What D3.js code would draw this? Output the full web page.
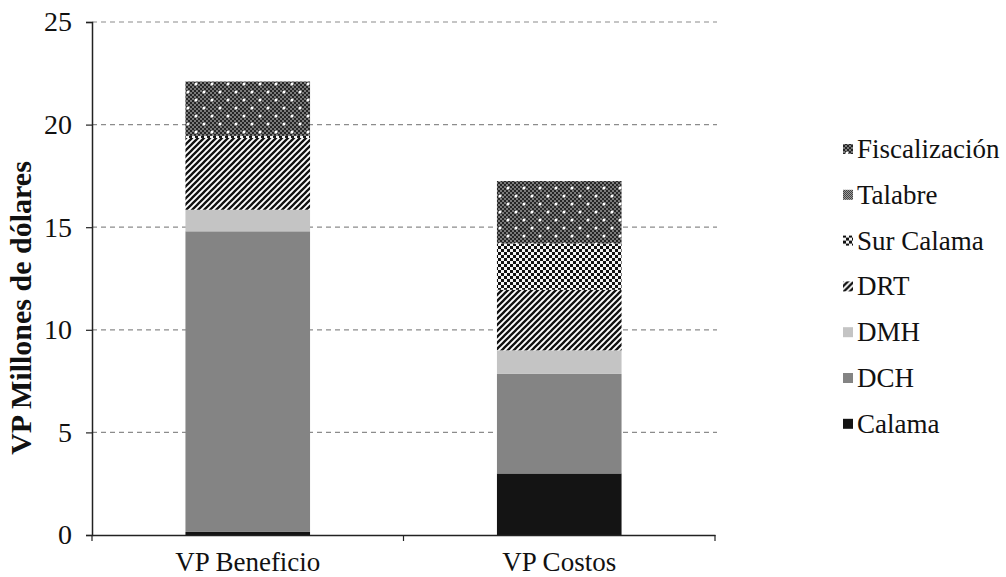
<!DOCTYPE html>
<html><head><meta charset="utf-8">
<script src="https://cdnjs.cloudflare.com/ajax/libs/d3/7.8.5/d3.min.js"></script>
</head><body style="margin:0">
<svg id="chart" width="1006" height="577"></svg>
<script>
const categories = ["VP Beneficio", "VP Costos"];
const seriesNames = ["Calama", "DCH", "DMH", "DRT", "Sur Calama", "Talabre", "Fiscalización"];
const Calama = [0.15, 3.0];
const DCH = [14.65, 4.85];
const DMH = [1.05, 1.15];
const DRT = [3.5, 2.95];
const SurCalama = [0.1, 2.25];
const Talabre = [0, 0];
const Fiscalizacion = [2.65, 3.05];
const yTicks = [0, 5, 10, 15, 20, 25];
const yTitle = "VP Millones de dólares";

const seriesValues = [Calama, DCH, DMH, DRT, SurCalama, Talabre, Fiscalizacion];
const rows = categories.map((c, i) => {
  const r = {cat: c};
  seriesNames.forEach((s, k) => r[s] = seriesValues[k][i]);
  return r;
});

const svg = d3.select("#chart");
const L = 92, R = 715, T = 22, B = 535;
const FONT = '"Liberation Serif"';
const FS = "27px";

const defs = svg.append("defs");
function mkPattern(id, w, h, draw) {
  const p = defs.append("pattern").attr("id", id).attr("patternUnits", "userSpaceOnUse")
    .attr("width", w).attr("height", h);
  draw(p);
}
mkPattern("pDRT", 6, 6, p => {
  p.append("rect").attr("width", 6).attr("height", 6).attr("fill", "#fff");
  p.append("path").attr("d", "M-1.5,1.5 L1.5,-1.5 M0,6 L6,0 M4.5,7.5 L7.5,4.5")
    .attr("stroke", "#111").attr("stroke-width", 2.3);
});
mkPattern("pSur", 6, 6, p => {
  p.append("rect").attr("width", 6).attr("height", 6).attr("fill", "#f4f4f4");
  p.append("rect").attr("width", 3).attr("height", 3).attr("fill", "#111");
  p.append("rect").attr("x", 3).attr("y", 3).attr("width", 3).attr("height", 3).attr("fill", "#111");
});
mkPattern("pTal", 2, 2, p => {
  p.append("rect").attr("width", 2).attr("height", 2).attr("fill", "#bbb");
  p.append("rect").attr("width", 1).attr("height", 1).attr("fill", "#222");
  p.append("rect").attr("x", 1).attr("y", 1).attr("width", 1).attr("height", 1).attr("fill", "#222");
});
mkPattern("pFis", 16, 16, p => {
  p.append("rect").attr("width", 16).attr("height", 16).attr("fill", "#7a7a7a");
  for (let i = 0; i < 8; i++) for (let j = 0; j < 8; j++) {
    if ((i + j) % 2 === 0) p.append("rect").attr("x", i * 2).attr("y", j * 2).attr("width", 2).attr("height", 2).attr("fill", "#262626");
  }
  [[4, 4], [12, 12]].forEach(([cx, cy]) => {
    p.append("circle").attr("cx", cx).attr("cy", cy).attr("r", 1.5).attr("fill", "#fff");
  });
});

const fills = {
  "Calama": "#141414", "DCH": "#848484", "DMH": "#c4c4c4",
  "DRT": "url(#pDRT)", "Sur Calama": "url(#pSur)", "Talabre": "url(#pTal)", "Fiscalización": "url(#pFis)"
};

const x = d3.scaleBand().domain(categories).range([L, R]).paddingInner(0.6).paddingOuter(0.3);
const y = d3.scaleLinear().domain([0, 25]).range([B, T]);

svg.append("g").selectAll("line").data(yTicks.filter(d => d > 0)).join("line")
  .attr("x1", L).attr("x2", R + 2).attr("y1", d => y(d)).attr("y2", d => y(d))
  .attr("stroke", "#8c8c8c").attr("stroke-width", 1.2).attr("stroke-dasharray", "5,4");

const stack = d3.stack().keys(seriesNames)(rows);
svg.append("g").selectAll("g").data(stack).join("g")
  .attr("fill", d => fills[d.key])
  .selectAll("rect").data(d => d).join("rect")
  .attr("x", d => x(d.data.cat)).attr("width", x.bandwidth())
  .attr("y", d => y(d[1])).attr("height", d => Math.max(0, y(d[0]) - y(d[1])));

const yAxis = svg.append("g").attr("transform", `translate(${L},0)`)
  .call(d3.axisLeft(y).tickValues(yTicks).tickSize(6).tickPadding(14));
yAxis.select(".domain").attr("stroke", "#222").attr("stroke-width", 1.5);
yAxis.selectAll(".tick line").attr("stroke", "#222").attr("stroke-width", 1.2);
yAxis.selectAll("text").style("font-family", FONT).style("font-size", "28px").attr("fill", "#111");

const xAxis = svg.append("g").attr("transform", `translate(0,${B})`)
  .call(d3.axisBottom(x).tickSize(0).tickPadding(17));
xAxis.select(".domain").attr("stroke", "#222").attr("stroke-width", 1.5);
xAxis.selectAll("text").style("font-family", FONT).style("font-size", FS).attr("fill", "#111");
const bounds = [L, ...categories.slice(1).map(c => x(c) - x.step() * x.paddingInner() / 2), R];
svg.append("g").selectAll("line").data(bounds).join("line")
  .attr("x1", d => d).attr("x2", d => d).attr("y1", B).attr("y2", B + 6)
  .attr("stroke", "#222").attr("stroke-width", 1.2);

svg.append("text").attr("transform", "translate(31,308) rotate(-90)")
  .attr("text-anchor", "middle").style("font-weight", "bold")
  .style("font-family", FONT).style("font-size", "30px").attr("fill", "#111").text(yTitle);

const legendOrder = seriesNames.slice().reverse();
const lg = svg.append("g").selectAll("g").data(legendOrder).join("g")
  .attr("transform", (d, i) => `translate(843,${149 + i * 45.8})`);
lg.append("rect").attr("x", 0).attr("y", -5).attr("width", 10).attr("height", 10).attr("fill", d => fills[d]);
lg.append("text").attr("x", 14).attr("y", 9)
  .style("font-family", FONT).style("font-size", FS).attr("fill", "#111").text(d => d);
</script>
</body></html>
